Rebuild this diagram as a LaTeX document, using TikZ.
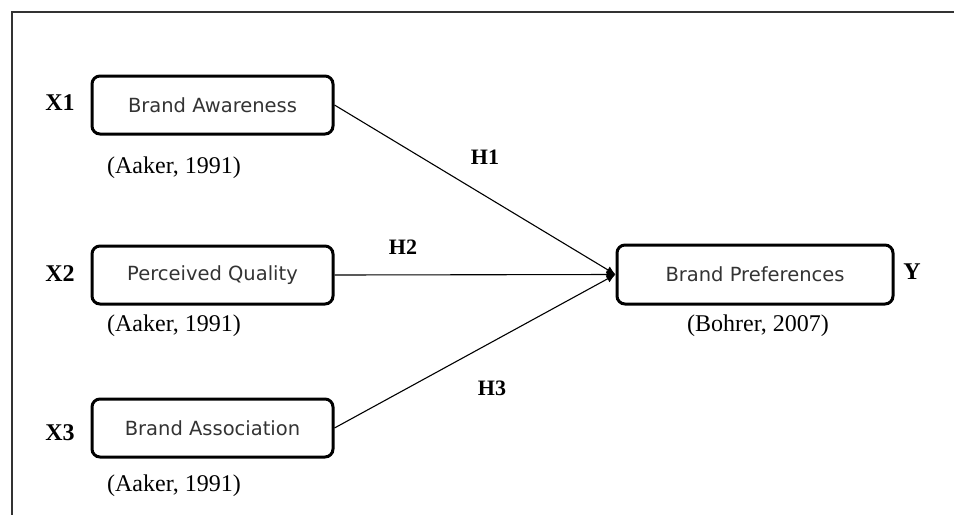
\documentclass[tikz,border=0pt]{standalone}
\usepackage{fontspec}
\setmainfont{Liberation Serif}
\newfontfamily\boxfont{DejaVu Sans}
\usetikzlibrary{arrows.meta}
\definecolor{boxtext}{HTML}{333333}
\tikzset{
  varbox/.style={draw=black, line width=3pt, rounded corners=8pt, minimum width=241pt, minimum height=58pt, inner sep=0pt, font=\boxfont\fontsize{19.5}{21}\selectfont, text=boxtext},
  cite/.style={font=\fontsize{24}{26}\selectfont, inner sep=0pt},
  varlabel/.style={font=\bfseries\fontsize{24}{26}\selectfont, inner sep=0pt},
  hyp/.style={font=\bfseries\fontsize{22}{24}\selectfont, inner sep=0pt},
  link/.style={line width=1.1pt, -{Latex[length=9pt,width=8pt]}}
}
\begin{document}
\begin{tikzpicture}[x=1pt,y=-1pt]
\useasboundingbox (0,0) rectangle (954,515);
\draw[line width=1.8pt, black!80] (954,12) -- (12,12) -- (12,515);
\node[varbox] (ba) at (212.5,105) {Brand Awareness};
\node[varbox] (pq) at (212.5,275) {Perceived Quality};
\node[varbox] (bas) at (212.5,428) {Brand Association};
\node[varbox, minimum width=276pt, minimum height=59pt] (bp) at (755,274.5) {Brand Preferences};
\node[varlabel] (x1) at (60,103) {X1};
\node[varlabel] (x2) at (60,274) {X2};
\node[varlabel] (x3) at (60,433) {X3};
\node[varlabel] (y) at (912,272) {Y};
\node[cite] (c1) at (174,168) {(Aaker, 1991)};
\node[cite] (c2) at (174,326) {(Aaker, 1991)};
\node[cite] (c3) at (174,486) {(Aaker, 1991)};
\node[cite] (c4) at (758,326) {(Bohrer, 2007)};
\coordinate (tip) at (bp.west);
\draw[link] (ba.east) -- (tip);
\draw[link] (pq.east) -- (tip);
\draw[link] (bas.east) -- (tip);
\node[hyp] (h1) at (485,157) {H1};
\node[hyp] (h2) at (403,247) {H2};
\node[hyp] (h3) at (492,388) {H3};
\end{tikzpicture}
\end{document}
